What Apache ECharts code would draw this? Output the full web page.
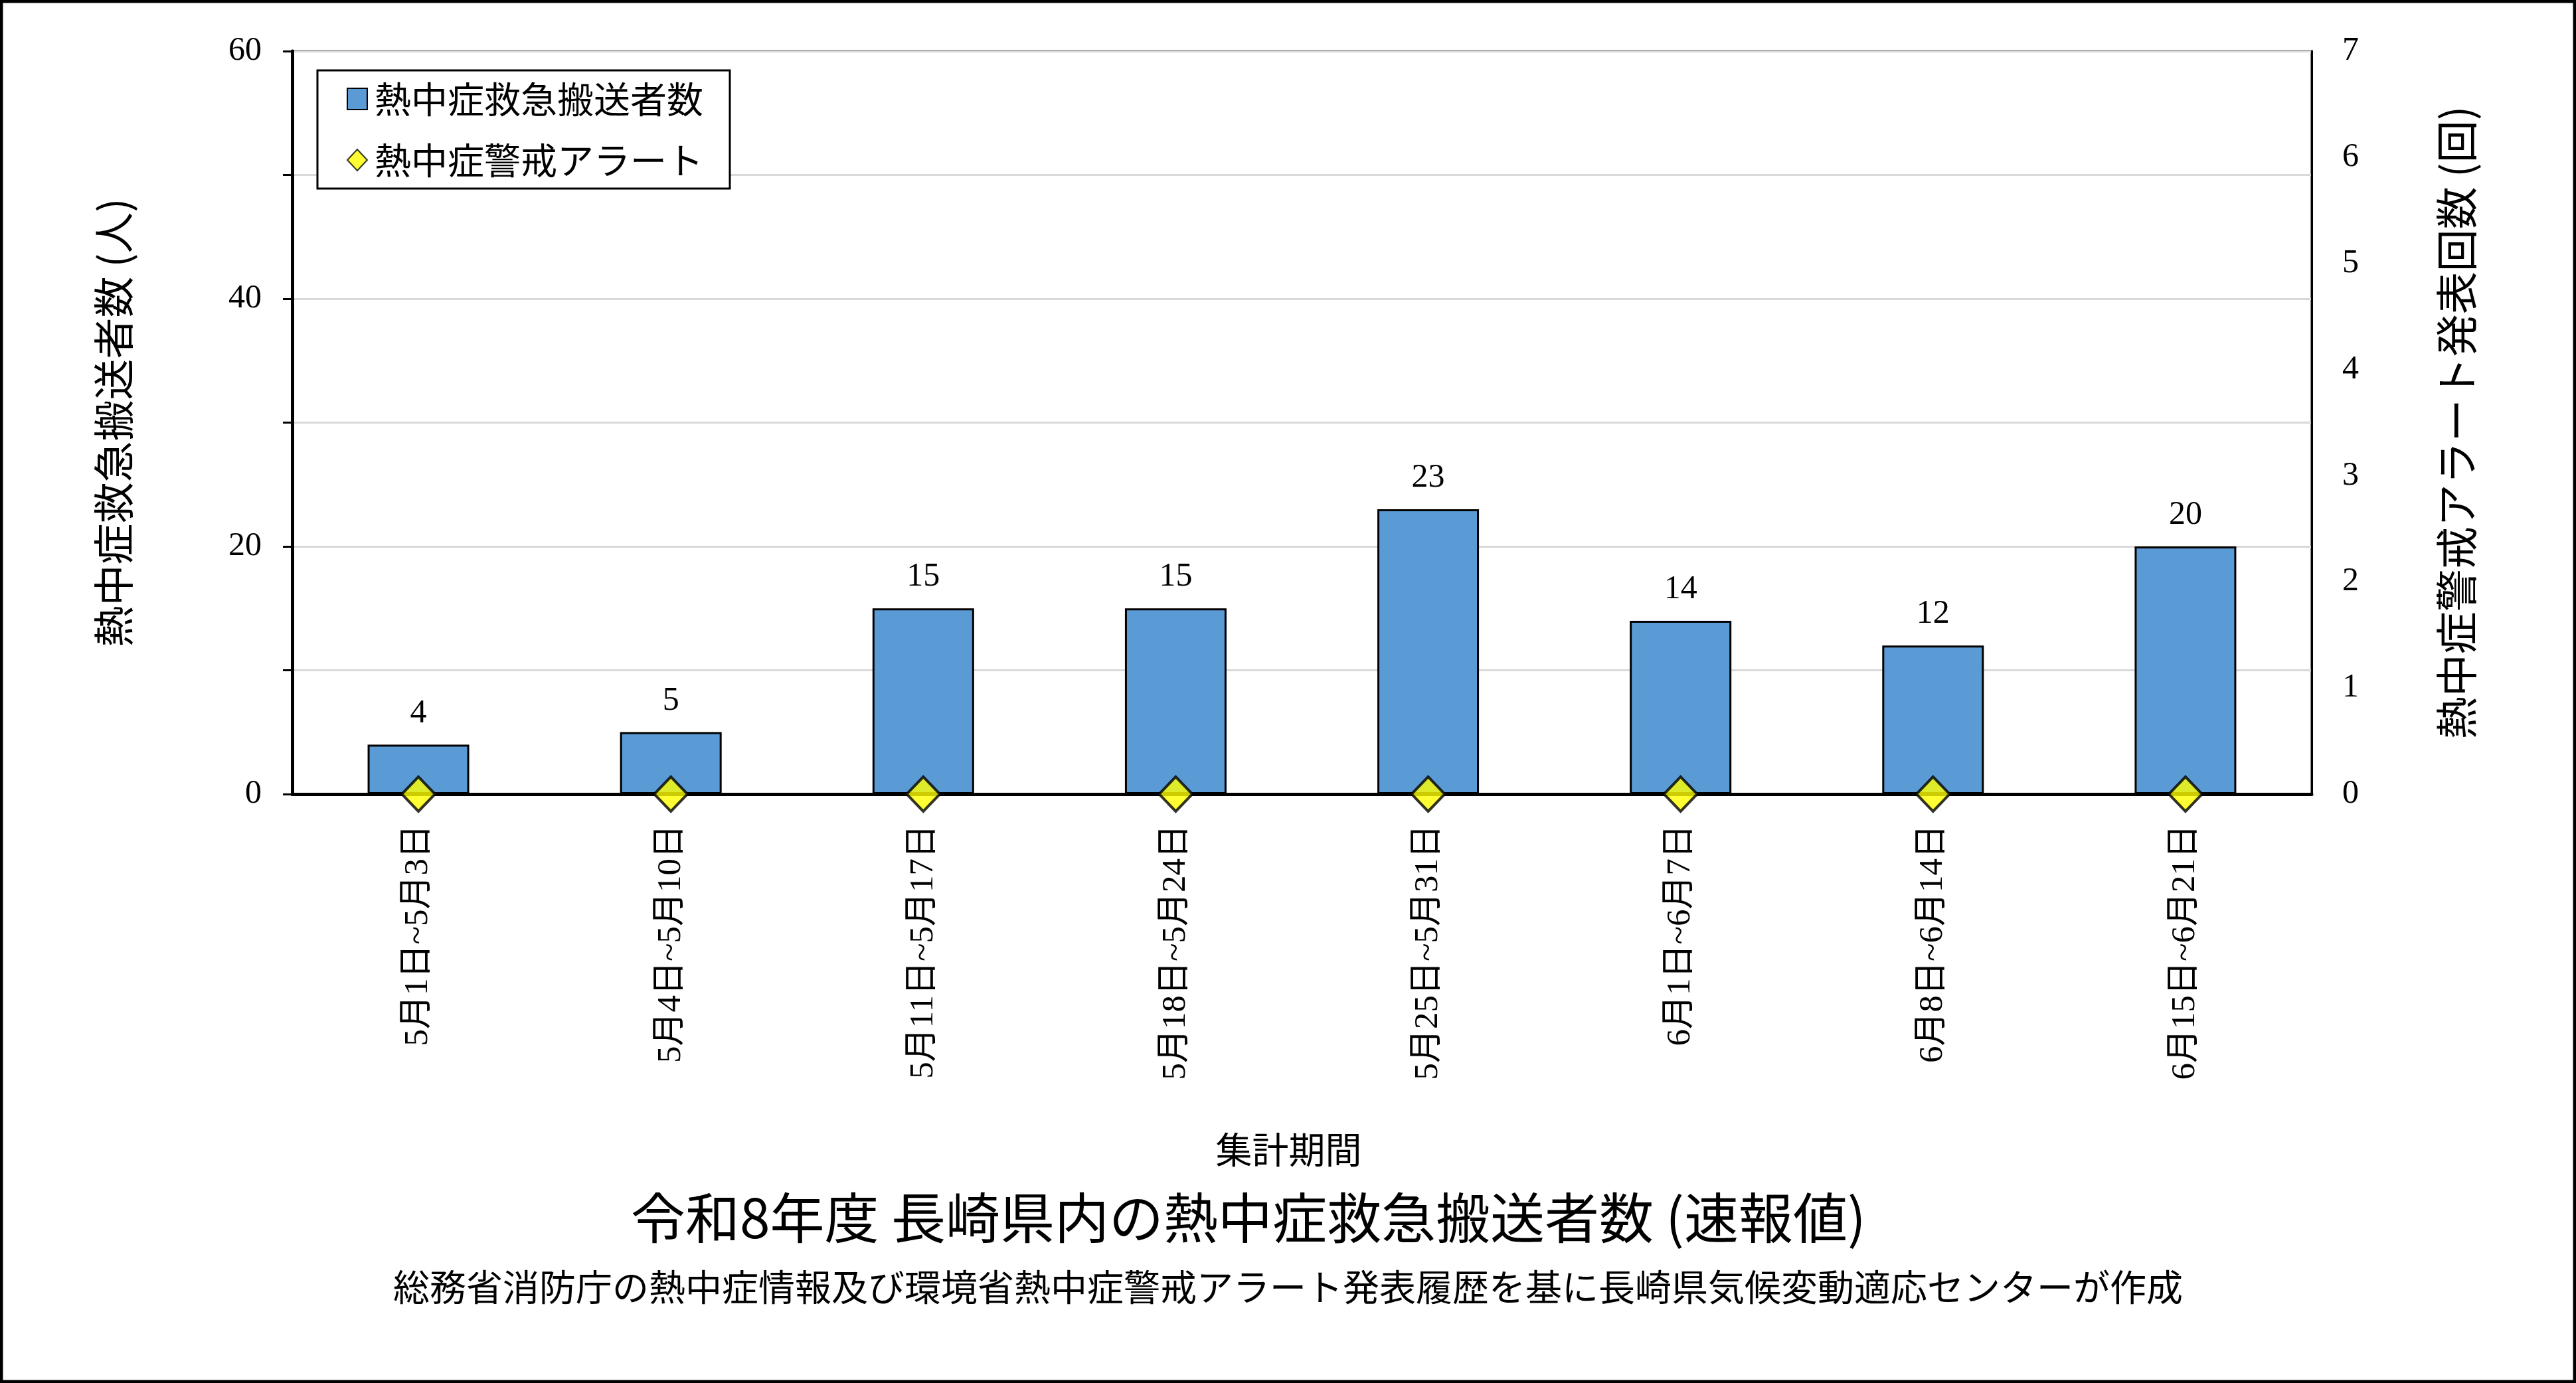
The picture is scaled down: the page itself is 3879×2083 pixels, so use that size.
<!DOCTYPE html>
<html><head><meta charset="utf-8">
<script src="https://cdn.jsdelivr.net/npm/echarts@6/dist/echarts.min.js"></script>
<style>html,body{margin:0;padding:0;background:#fff;}#c{width:3879px;height:2083px;}</style>
</head><body><div id="c"></div>
<script>
const categories = ['5月1日~5月3日','5月4日~5月10日','5月11日~5月17日','5月18日~5月24日','5月25日~5月31日','6月1日~6月7日','6月8日~6月14日','6月15日~6月21日'];
const transports = [4, 5, 15, 15, 23, 14, 12, 20];
const alerts = [0, 0, 0, 0, 0, 0, 0, 0];
const leftTicks = [0, 20, 40, 60];
const rightTicks = [0, 1, 2, 3, 4, 5, 6, 7];
const seriesNames = ['熱中症救急搬送者数', '熱中症警戒アラート'];
const titleText = '令和8年度 長崎県内の熱中症救急搬送者数 (速報値)';
const subText = '総務省消防庁の熱中症情報及び環境省熱中症警戒アラート発表履歴を基に長崎県気候変動適応センターが作成';

const CJK = "'Noto Sans CJK JP'";
const SERIF = "'Liberation Serif', 'Noto Sans CJK JP'";
const chart = echarts.init(document.getElementById('c'));
chart.setOption({
  animation: false,
  backgroundColor: '#fff',
  graphic: [{type:'rect', shape:{x:2,y:2,width:3875,height:2079}, style:{fill:'none', stroke:'#000', lineWidth:5}, silent:true}],
  title: [
    {text: titleText, left: 945, top: 1788, textStyle:{fontFamily: CJK, fontSize: 82, fontWeight:'normal', color:'#000'}},
    {text: subText, left: 'center', top: 1906, textStyle:{fontFamily: CJK, fontSize: 55, fontWeight:'normal', color:'#000'}}
  ],
  legend: {
    orient: 'vertical', left: 478, top: 106,
    backgroundColor: '#fff', borderColor: '#000', borderWidth: 3,
    padding: [15, 40, 15, 44], itemGap: 36, itemWidth: 30, itemHeight: 32,
    textStyle: {fontFamily: CJK, fontSize: 55, color: '#000', lineHeight: 56, padding:[0,0,0,6]},
    data: [{name: seriesNames[0], icon: 'rect'}, {name: seriesNames[1], icon: 'diamond'}]
  },
  grid: {left: 440, right: 398, top: 77, bottom: 887, show: true, borderColor: '#000', borderWidth: 3, outerBoundsMode: 'none', containLabel: false},
  xAxis: {
    type: 'category', data: categories,
    name: '集計期間', nameLocation: 'middle', nameGap: 508,
    nameTextStyle: {fontFamily: CJK, fontSize: 55, color: '#000', padding: [0, 40, 0, 0]},
    axisLine: {show: true, lineStyle: {color: '#000', width: 5}},
    axisTick: {show: false},
    axisLabel: {rotate: 90, margin: 46, interval: 0, fontFamily: SERIF, fontSize: 51, color: '#000'}
  },
  yAxis: [
    {
      type: 'value', min: 0, max: 60, interval: 10, position: 'left',
      name: '熱中症救急搬送者数 (人)', nameLocation: 'middle', nameGap: 238, nameRotate: 90,
      nameTextStyle: {fontFamily: CJK, fontSize: 62, color: '#000'},
      axisLine: {show: true, lineStyle: {color: '#000', width: 5}},
      axisTick: {show: true, length: 14, inside: false, lineStyle: {color: '#000', width: 3}},
      axisLabel: {margin: 46, fontFamily: SERIF, fontSize: 50, color: '#000',
        formatter: v => leftTicks.indexOf(v) >= 0 ? String(v) : ''},
      splitLine: {show: true, lineStyle: {color: '#d9d9d9', width: 3}}
    },
    {
      type: 'value', min: 0, max: 7, interval: 1, position: 'right',
      name: '熱中症警戒アラート発表回数 (回)', nameLocation: 'middle', nameGap: 186, nameRotate: 90,
      nameTextStyle: {fontFamily: CJK, fontSize: 64, color: '#000'},
      axisLine: {show: true, lineStyle: {color: '#000', width: 3}},
      axisTick: {show: false},
      axisLabel: {margin: 46, fontFamily: SERIF, fontSize: 50, color: '#000',
        formatter: v => rightTicks.indexOf(v) >= 0 ? String(v) : ''},
      splitLine: {show: false}
    }
  ],
  series: [
    {
      name: seriesNames[0], type: 'bar', data: transports, barWidth: 153, yAxisIndex: 0,
      itemStyle: {color: '#5B9BD5', borderColor: '#000', borderWidth: 3},
      label: {show: true, position: 'top', distance: 22, fontFamily: SERIF, fontSize: 50, color: '#000'}
    },
    {
      name: seriesNames[1], type: 'scatter', data: alerts, yAxisIndex: 1, clip: false,
      symbol: 'diamond', symbolSize: [50, 52], z: 5,
      itemStyle: {color: '#FFFF00', borderColor: '#000', borderWidth: 4}
    }
  ]
});
</script></body></html>
